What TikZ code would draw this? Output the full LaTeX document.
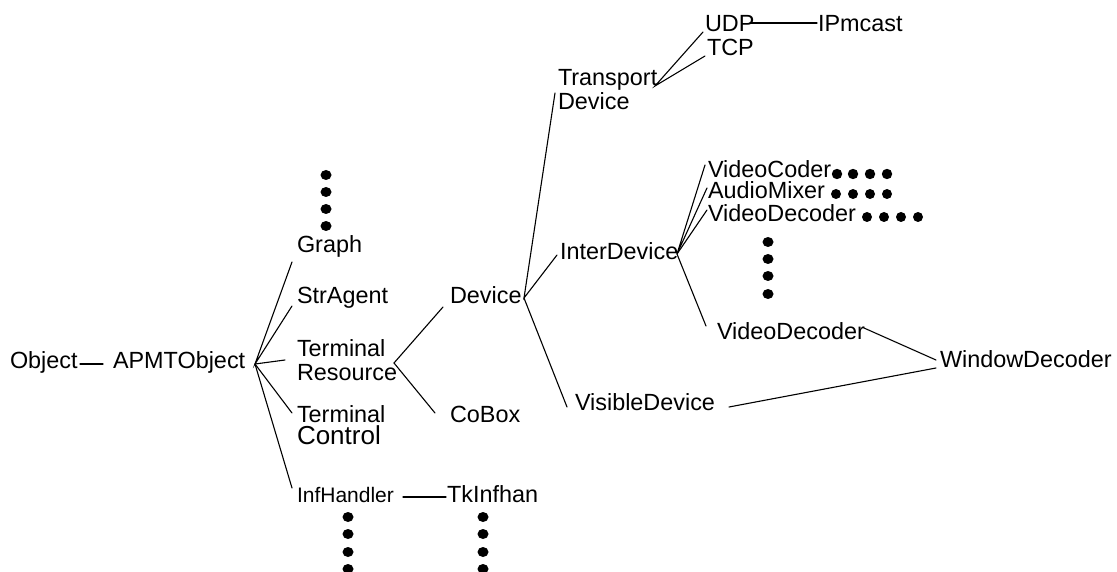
\documentclass[tikz,border=0pt]{standalone}
\usepackage{fontspec}
\setmainfont{Liberation Sans}
\begin{document}
\begin{tikzpicture}[x=1pt,y=-1pt,
  lbl/.style={anchor=base west, inner sep=0pt, outer sep=0pt, align=left, font=\fontsize{23.4}{24}\selectfont},
  conn/.style={line width=1.1pt, line cap=round},
  blob/.style={fill=black, draw=none}]
\useasboundingbox (0,0) rectangle (1117,572);
% ---------- nodes (multi-line nodes are placed by their last line) ----------
\node[lbl] (obj)      at (10,368)  {Object};
\node[lbl] (apmt)     at (113,368) {APMTObject};
\node[lbl] (graph)    at (297,253) {Graph};
\node[lbl] (stragent) at (297,303) {StrAgent};
\node[lbl] (termres)  at (297,380) {Terminal\\Resource};
\node[lbl] (termctl)  at (297,444) {Terminal\\[-2pt]{\fontsize{26}{26}\selectfont Control}};
\node[lbl, font=\fontsize{21}{22}\selectfont] (infh) at (297,502) {InfHandler};
\node[lbl] (tkinf)    at (447,502) {TkInfhan};
\node[lbl] (device)   at (450,303) {Device};
\node[lbl] (cobox)    at (450,422) {CoBox};
\node[lbl] (transport) at (558,110) {Transport\\Device};
\node[lbl] (udp)      at (705,32)  {UDP};
\node[lbl] (tcp)      at (707,56)  {TCP};
\node[lbl] (ipm)      at (818,32)  {IPmcast};
\node[lbl] (interdev) at (560,260) {InterDevice};
\node[lbl] (vcoder)   at (708,178) {VideoCoder};
\node[lbl] (amixer)   at (708,199) {AudioMixer};
\node[lbl] (vdec1)    at (708,222) {VideoDecoder};
\node[lbl] (vdec2)    at (717,339) {VideoDecoder};
\node[lbl] (visdev)   at (575,410) {VisibleDevice};
\node[lbl] (windec)   at (940,367) {WindowDecoder};
% ---------- connector points ----------
\coordinate (obj-out)   at (80,364);
\coordinate (apmt-in)   at (103,364);
\coordinate (apmt-hub)  at (255,364);
\coordinate (graph-in)  at (292,262);
\coordinate (str-in)    at (292,306);
\coordinate (tres-in)   at (285,360);
\coordinate (tctl-in)   at (292,413);
\coordinate (infh-in)   at (292,488);
\coordinate (tres-hub)  at (394,363);
\coordinate (dev-in)    at (443,307);
\coordinate (cobox-in)  at (435,413);
\coordinate (infh-out)  at (403,497);
\coordinate (tkinf-in)  at (446,497);
\coordinate (dev-hub)   at (524,298);
\coordinate (trans-in)  at (555,93);
\coordinate (inter-in)  at (557,255);
\coordinate (vis-in)    at (567,407);
\coordinate (trans-hub) at (655,86);
\coordinate (udp-in)    at (703,32);
\coordinate (tcp-in)    at (705,56);
\coordinate (udp-out)   at (750,23);
\coordinate (ipm-in)    at (817,23);
\coordinate (inter-hub) at (677,254);
\coordinate (vcoder-in) at (705,165);
\coordinate (amixer-in) at (707,188);
\coordinate (vdec1-in)  at (707,210);
\coordinate (vdec2-in)  at (706,326);
\coordinate (vdec2-out) at (864,328);
\coordinate (vis-out)   at (729,407);
\coordinate (win-in1)   at (936,360);
\coordinate (win-in2)   at (936,368);
% ---------- connectors ----------
\draw[conn] (obj-out) -- (apmt-in);
\draw[conn] (graph-in) -- (apmt-hub) -- (str-in);
\draw[conn] (apmt-hub) -- (tres-in);
\draw[conn] (apmt-hub) -- (tctl-in);
\draw[conn] (apmt-hub) -- (infh-in);
\draw[conn] (dev-in) -- (tres-hub) -- (cobox-in);
\draw[conn] (infh-out) -- (tkinf-in);
\draw[conn] (trans-in) -- (dev-hub) -- (inter-in);
\draw[conn] (dev-hub) -- (vis-in);
\draw[conn] (udp-in) -- (trans-hub) -- (tcp-in);
\draw[conn] (udp-out) -- (ipm-in);
\draw[conn] (vcoder-in) -- (inter-hub) -- (amixer-in);
\draw[conn] (inter-hub) -- (vdec1-in);
\draw[conn] (inter-hub) -- (vdec2-in);
\draw[conn] (vdec2-out) -- (win-in1);
\draw[conn] (vis-out) -- (win-in2);
% ---------- ellipsis dots ----------
\foreach \y in {175,192,209,226} \fill[blob] (326,\y) ellipse [x radius=5.5, y radius=5];
\foreach \x in {837,853,870,887} \fill[blob] (\x,174) ellipse [x radius=5.2, y radius=5.2];
\foreach \x in {836,853,870,887} \fill[blob] (\x,194) ellipse [x radius=5, y radius=5];
\foreach \x in {867,884,901,918} \fill[blob] (\x,217) ellipse [x radius=5, y radius=5];
\foreach \y in {242,259,276,294} \fill[blob] (768,\y) ellipse [x radius=5.5, y radius=5];
\foreach \y in {517,534,552,569} \fill[blob] (348,\y) ellipse [x radius=5.5, y radius=5];
\foreach \y in {517,534,552,569} \fill[blob] (483,\y) ellipse [x radius=5.5, y radius=5];
\end{tikzpicture}
\end{document}
